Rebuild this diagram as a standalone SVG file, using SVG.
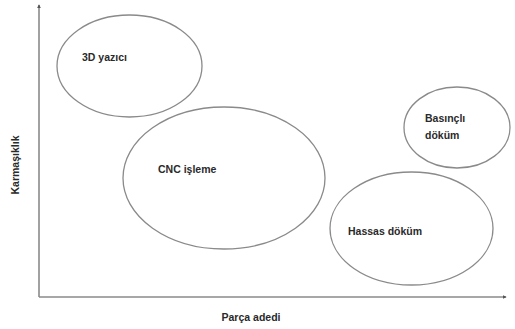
<svg xmlns="http://www.w3.org/2000/svg" width="515" height="329" viewBox="0 0 515 329">
<style>
.n{fill:none;stroke:#8a8a8a;stroke-width:1.3}
.t{font-family:"Liberation Sans",Arial,sans-serif;font-weight:bold;font-size:10.5px;fill:#2a2a2a}
.ax{stroke:#8a8a8a;stroke-width:1.6;fill:none}
</style>
<defs>
<marker id="ah" viewBox="0 0 6 6" refX="5" refY="3" markerWidth="4" markerHeight="4" orient="auto" markerUnits="userSpaceOnUse">
<path d="M0,0 L6,3 L0,6 z" fill="#555"/>
</marker>
</defs>
<rect width="515" height="329" fill="#fff"/>
<g id="connectors">
<line class="ax" x1="39" y1="297" x2="39" y2="5" marker-end="url(#ah)"/>
<line class="ax" x1="39" y1="297" x2="506" y2="297" marker-end="url(#ah)"/>
</g>
<g id="node-3d">
<ellipse class="n" cx="129.5" cy="66" rx="72.5" ry="51"/>
<text class="t" x="82" y="61">3D yazıcı</text>
</g>
<g id="node-cnc">
<ellipse class="n" cx="224" cy="178" rx="101" ry="71"/>
<text class="t" x="158" y="173">CNC işleme</text>
</g>
<g id="node-basincli">
<ellipse class="n" cx="457" cy="127.5" rx="53" ry="40.5"/>
<text class="t" x="425" y="122">Basınçlı</text>
<text class="t" x="425" y="139">döküm</text>
</g>
<g id="node-hassas">
<ellipse class="n" cx="411.5" cy="228.5" rx="81.5" ry="56.5"/>
<text class="t" x="348" y="235">Hassas döküm</text>
</g>
<g id="labels">
<text class="t" x="251" y="321" text-anchor="middle">Parça adedi</text>
<text class="t" x="0" y="0" text-anchor="middle" transform="translate(19,165) rotate(-90)">Karmaşıklık</text>
</g>
</svg>
